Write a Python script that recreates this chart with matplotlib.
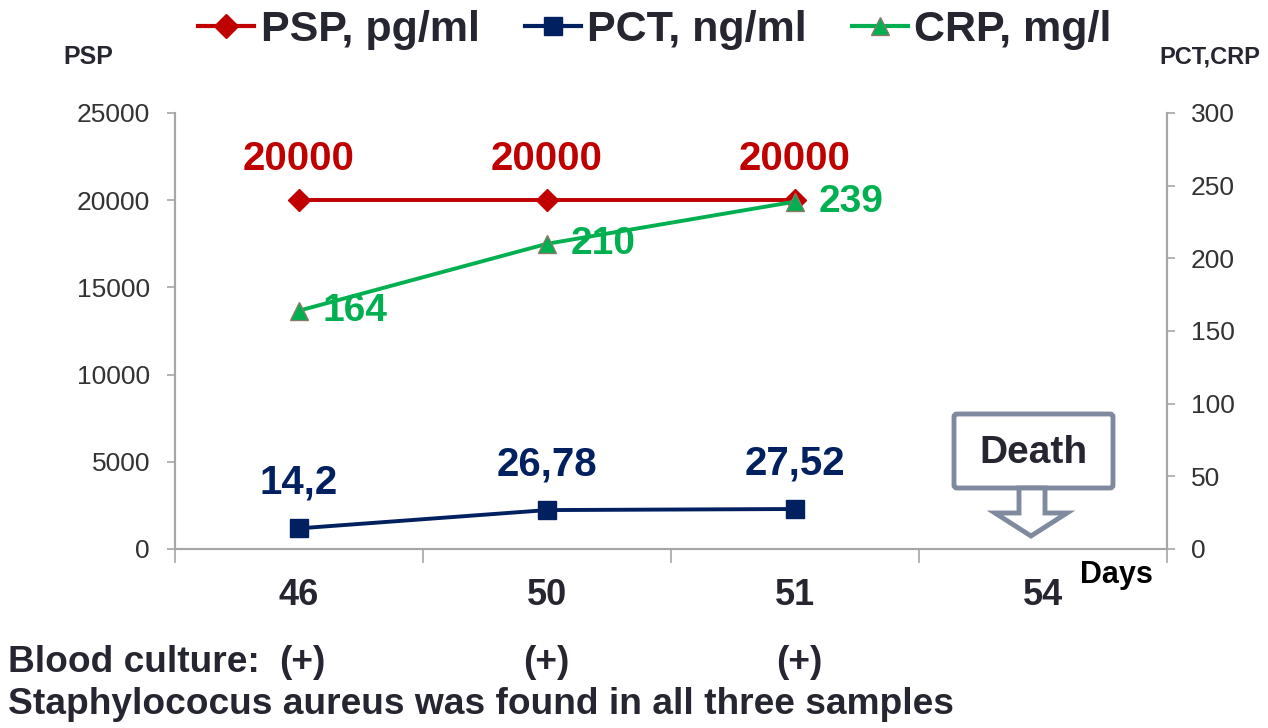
import matplotlib
matplotlib.use("Agg")
import matplotlib.pyplot as plt
from matplotlib.lines import Line2D
from matplotlib.patches import Polygon, FancyBboxPatch

plt.rcParams['font.family'] = ['Liberation Sans', 'DejaVu Sans']

days = ["46", "50", "51", "54"]
psp = [20000, 20000, 20000]
pct = [14.2, 26.78, 27.52]
crp = [164, 210, 239]
psp_labels = ["20000", "20000", "20000"]
pct_labels = ["14,2", "26,78", "27,52"]
crp_labels = ["164", "210", "239"]
blood_culture = ["(+)", "(+)", "(+)"]

RED = "#C00000"
NAVY = "#002060"
GREEN = "#00B050"
GRAY = "#A6A6A6"
TXT = "#262631"
BOXC = "#7F8A9E"

W, H = 1268, 728
fig = plt.figure(figsize=(W / 100, H / 100), dpi=100)
ax = fig.add_axes([175 / W, 1 - 549 / H, (1167 - 175) / W, (549 - 113) / H])
ax2 = ax.twinx()

x = list(range(len(psp)))
ax.plot(x, psp, color=RED, lw=2.8, marker="D", ms=11, mfc=RED, mec=RED, zorder=5)
ax2.plot(x, pct, color=NAVY, lw=2.8, marker="s", ms=13, mfc=NAVY, mec=NAVY, zorder=5)
ax2.plot(x, crp, color=GREEN, lw=2.8, marker="^", ms=13, mfc=GREEN, mec="#8A7A6A", mew=1.0, zorder=5)

ax.set_xlim(-0.5, len(days) - 0.5)
ax.set_ylim(0, 25000)
ax2.set_ylim(0, 300)
ax.set_yticks(range(0, 25001, 5000))
ax2.set_yticks(range(0, 301, 50))

ax.set_xticks([i - 0.5 for i in range(len(days) + 1)])
ax.set_xticklabels([])
ax.set_xticks(range(len(days)), minor=True)
ax.set_xticklabels(days, minor=True, fontsize=26, fontweight="bold", color=TXT)
ax.tick_params(axis="x", which="major", length=10, width=1.2, color=GRAY, direction="out")
ax.tick_params(axis="x", which="minor", length=0, pad=21)

for a in (ax, ax2):
    for s in a.spines.values():
        s.set_color(GRAY)
        s.set_linewidth(1.5)
    a.spines["top"].set_visible(False)
ax.tick_params(axis="y", length=6, width=1.2, color=GRAY, labelsize=19, labelcolor="#333333", pad=12)
ax2.tick_params(axis="y", length=6, width=1.2, color=GRAY, labelsize=19, labelcolor="#333333", pad=11)
ax.patch.set_visible(False)

for xi, v, lab in zip(x, psp, psp_labels):
    ax.annotate(lab, (xi, v), xytext=(0, 30), textcoords="offset points", ha="center", va="center",
                fontsize=29, fontweight="bold", color=RED)
for xi, v, lab in zip(x, pct, pct_labels):
    ax2.annotate(lab, (xi, v), xytext=(0, 33), textcoords="offset points", ha="center", va="center",
                 fontsize=29, fontweight="bold", color=NAVY)
for xi, v, lab in zip(x, crp, crp_labels):
    ax2.annotate(lab, (xi, v), xytext=(17, 0), textcoords="offset points", ha="left", va="center",
                 fontsize=28, fontweight="bold", color=GREEN)

# axis titles
fig.text(88 / W, 1 - 57 / H, "PSP", ha="center", va="center", fontsize=18, fontweight="bold", color=TXT)
fig.text(1210 / W, 1 - 57 / H, "PCT,CRP", ha="center", va="center", fontsize=17, fontweight="bold", color=TXT)
fig.text(1116 / W, 1 - 575 / H, "Days", ha="center", va="center", fontsize=22, fontweight="bold", color="black")

# legend
handles = [
    Line2D([], [], color=RED, lw=3, marker="D", ms=12, mfc=RED, mec=RED),
    Line2D([], [], color=NAVY, lw=3, marker="s", ms=13, mfc=NAVY, mec=NAVY),
    Line2D([], [], color=GREEN, lw=3, marker="^", ms=13, mfc=GREEN, mec="#8A7A6A"),
]
fig.legend(handles, ["PSP, pg/ml", "PCT, ng/ml", "CRP, mg/l"], loc="center", bbox_to_anchor=(655 / W, 1 - 30 / H),
           ncol=3, frameon=False, handlelength=1.3, handletextpad=0.15, columnspacing=1.05,
           prop={"size": 31, "weight": "bold"}, labelcolor=TXT)

# Death callout (figure pixel coordinates)
box = FancyBboxPatch((954, H - 488), 1113 - 954, 488 - 414, boxstyle="round,pad=0,rounding_size=3",
                     transform=None, fc="white", ec=BOXC, lw=3.5)
fig.patches.append(box)
arrow_pts = [(1019, 488), (1045, 488), (1045, 513), (1067, 513), (1031, 536), (995, 513), (1019, 513)]
arrow = Polygon([(px, H - py) for px, py in arrow_pts], closed=True, transform=None, fc="white", ec=BOXC, lw=3.5)
fig.patches.append(arrow)
fig.text(1033 / W, 1 - 453 / H, "Death", ha="center", va="center", fontsize=28, fontweight="bold", color=TXT)

# bottom notes
fig.text(8 / W, 1 - 662 / H, "Blood culture:", ha="left", va="center", fontsize=26.7, fontweight="bold", color=TXT)
for xp, lab in zip([302, 546, 799], blood_culture):
    fig.text(xp / W, 1 - 662 / H, lab, ha="center", va="center", fontsize=26.7, fontweight="bold", color=TXT)
fig.text(8 / W, 1 - 704 / H, "Staphylococus aureus was found in all three samples", ha="left", va="center",
         fontsize=26.7, fontweight="bold", color=TXT)

fig.savefig("out.png", dpi=100)
